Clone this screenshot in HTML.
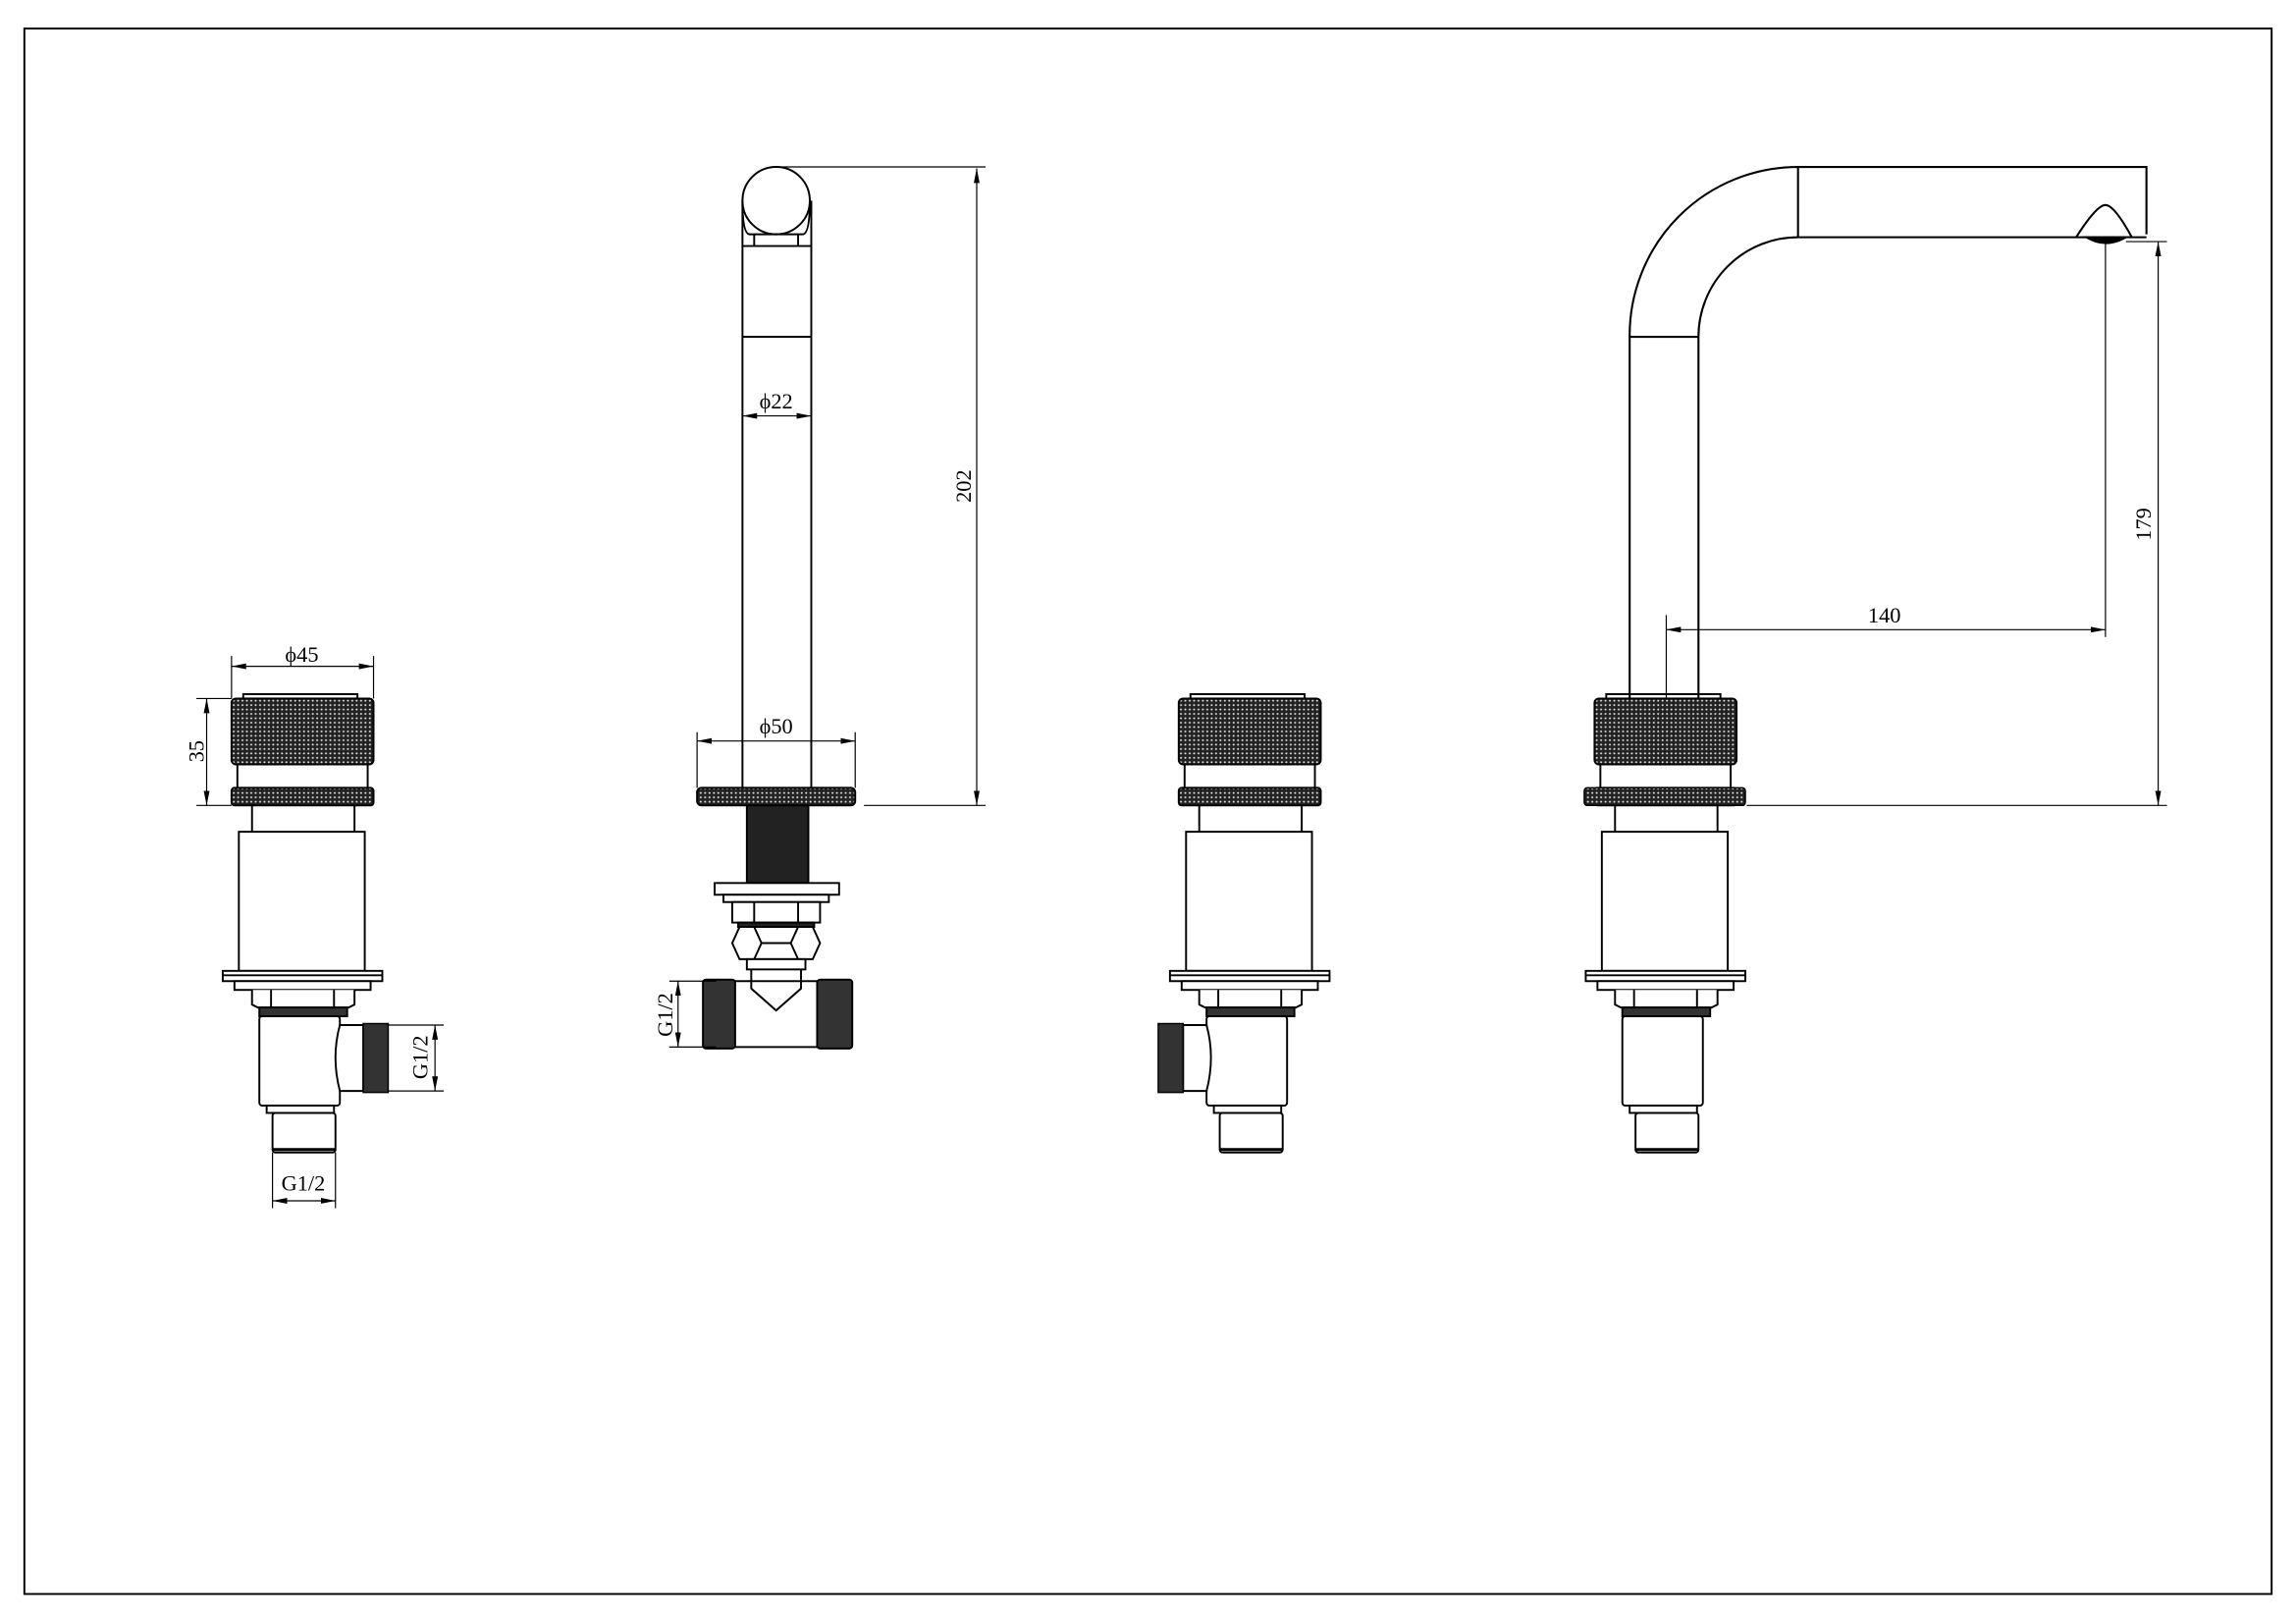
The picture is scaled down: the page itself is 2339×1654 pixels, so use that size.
<!DOCTYPE html>
<html><head><meta charset="utf-8"><style>html,body{margin:0;padding:0;background:#fff}svg{display:block}</style></head>
<body>
<svg width="2339" height="1654" viewBox="0 0 1568 1109" xmlns="http://www.w3.org/2000/svg" font-family="'Liberation Serif', serif">
<defs>
<pattern id="kn" width="3" height="3" patternUnits="userSpaceOnUse"><rect width="3" height="3" fill="#222"/><circle cx="1.5" cy="1.5" r="0.7" fill="#ddd"/></pattern>
<marker id="ar" viewBox="0 0 10 4" refX="10" refY="2" markerWidth="10" markerHeight="4" orient="auto-start-reverse" markerUnits="userSpaceOnUse"><path d="M0,0 L10,2 L0,4 z" fill="#000"/></marker>
<g id="hd" stroke="#000" stroke-width="1.3" fill="none">
<rect x="-40" y="474" width="78" height="3" fill="#fff"/>
<rect x="-48" y="477" width="97" height="45" rx="3" fill="url(#kn)"/>
<line x1="-44" y1="522" x2="-44" y2="538"/><line x1="45" y1="522" x2="45" y2="538"/>
<rect x="-48" y="538" width="97" height="12" rx="2" fill="url(#kn)"/>
<line x1="-34" y1="550" x2="-34" y2="568"/><line x1="36" y1="550" x2="36" y2="568"/>
<rect x="-43" y="568" width="86" height="95" fill="#fff"/>
<rect x="-54" y="663" width="109" height="7" fill="#fff"/><line x1="-54" y1="666" x2="55" y2="666"/>
<rect x="-46" y="670" width="93" height="6" fill="#fff"/>
<path d="M-34,676 V686 L-30,688 H32 L36,686 V676" fill="#fff"/>
<line x1="-21" y1="676" x2="-21" y2="688"/><line x1="22" y1="676" x2="22" y2="688"/>
<rect x="-29" y="688" width="60" height="6" fill="#333"/>
</g>
<g id="low" stroke="#000" stroke-width="1.3" fill="none">
<rect x="-29" y="694" width="55" height="61" rx="2" fill="#fff"/>
<rect x="-24" y="755" width="46" height="5" fill="#fff"/>
<rect x="-20" y="760" width="43" height="27" rx="2" fill="#fff"/>
<line x1="-20" y1="785" x2="23" y2="785" stroke-width="2"/>
</g>
</defs>
<rect x="16.5" y="19.5" width="1535" height="1069" fill="none" stroke="#000" stroke-width="1.3"/>

<g transform="translate(206,0)">
<use href="#hd"/><use href="#low"/>
<path d="M26,700 H42 V745 H26 Q20,722 26,700 z" fill="#fff" stroke="#000" stroke-width="1.3"/>
<rect x="42" y="699" width="17" height="47" fill="#333" stroke="#000"/>
</g>
<g transform="translate(853,0)">
<use href="#hd"/><use href="#low"/>
<path d="M-29,700 H-45 V745 H-29 Q-23,722 -29,700 z" fill="#fff" stroke="#000" stroke-width="1.3"/>
<rect x="-62" y="699" width="17" height="47" fill="#333" stroke="#000"/>
</g>
<g transform="translate(1137,0)">
<use href="#hd"/><use href="#low"/>
<rect x="-55" y="538" width="110" height="12" rx="2" fill="url(#kn)" stroke="#000"/>
</g>

<g stroke="#000" stroke-width="1.3" fill="none">
<path d="M507,137 V538 M554,137 V538"/>
<circle cx="530" cy="137" r="23" fill="#fff"/>
<path d="M507,137 Q507,160 512,160 H548 Q553,160 553,137" />
<path d="M515,160 V168 M545,160 V168 M507,168 H554"/>
<line x1="507" y1="230" x2="554" y2="230"/>
<rect x="476" y="538" width="108" height="12" rx="3" fill="url(#kn)"/>
<rect x="510" y="550" width="42" height="53" fill="#222"/>
<rect x="488" y="603" width="85" height="8" fill="#fff"/>
<rect x="494" y="611" width="72" height="5" fill="#fff"/>
<rect x="500" y="616" width="60" height="14" fill="#fff"/><path d="M515,616 V630 M545,616 V630"/>
<rect x="504" y="630" width="52" height="3" fill="#222"/>
<path d="M505,633 H555 L560,644 L555,655 H505 L500,644 z" fill="#fff"/><path d="M515,633 L520,644 L515,655 M545,633 L540,644 L545,655 M520,644 H540"/>
<rect x="510" y="655" width="40" height="7" fill="#fff"/>
<path d="M513,662 V675 L530,690 L547,675 V662"/>
<rect x="489" y="670" width="91" height="45" fill="none"/>
<path d="M513,675 L530,690 L547,675" fill="#fff"/>
<rect x="480" y="669" width="22" height="47" fill="#333" rx="2"/>
<rect x="558" y="669" width="24" height="47" fill="#333" rx="2"/>
</g>

<g stroke="#000" stroke-width="1.4" fill="none">
<path d="M1113,477 V230 A115,115 0 0 1 1228,114 H1466 V160 M1160,477 V230 A68,68 0 0 1 1228,162 H1466"/>
<line x1="1113" y1="230" x2="1160" y2="230"/>
<line x1="1228" y1="114" x2="1228" y2="162"/>
<path d="M1418,162 Q1432,140 1438,140 Q1444,140 1456,162"/>
<path d="M1425,162 Q1438,170 1452,162 z" fill="#000"/>
</g>

<g stroke="#000" stroke-width="0.8" fill="none">
<line x1="530" y1="114" x2="673" y2="114"/><line x1="590" y1="550" x2="673" y2="550"/>
<line x1="667" y1="115" x2="667" y2="550" marker-start="url(#ar)" marker-end="url(#ar)"/>
<line x1="507" y1="284" x2="554" y2="284" marker-start="url(#ar)" marker-end="url(#ar)"/>
<line x1="476" y1="500" x2="476" y2="538"/><line x1="584" y1="500" x2="584" y2="538"/>
<line x1="476" y1="506" x2="584" y2="506" marker-start="url(#ar)" marker-end="url(#ar)"/>
<line x1="158" y1="448" x2="158" y2="477"/><line x1="255" y1="448" x2="255" y2="477"/>
<line x1="158" y1="455" x2="255" y2="455" marker-start="url(#ar)" marker-end="url(#ar)"/>
<line x1="134" y1="477" x2="158" y2="477"/><line x1="134" y1="550" x2="158" y2="550"/>
<line x1="141" y1="477" x2="141" y2="550" marker-start="url(#ar)" marker-end="url(#ar)"/>
<line x1="265" y1="700" x2="303" y2="700"/><line x1="265" y1="745" x2="303" y2="745"/>
<line x1="297" y1="700" x2="297" y2="745" marker-start="url(#ar)" marker-end="url(#ar)"/>
<line x1="186" y1="787" x2="186" y2="825"/><line x1="229" y1="787" x2="229" y2="825"/>
<line x1="186" y1="820" x2="229" y2="820" marker-start="url(#ar)" marker-end="url(#ar)"/>
<line x1="457" y1="670" x2="489" y2="670"/><line x1="457" y1="715" x2="489" y2="715"/>
<line x1="463" y1="670" x2="463" y2="715" marker-start="url(#ar)" marker-end="url(#ar)"/>
<line x1="1438" y1="165" x2="1438" y2="435"/>
<line x1="1138" y1="420" x2="1138" y2="477"/>
<line x1="1138" y1="430" x2="1438" y2="430" marker-start="url(#ar)" marker-end="url(#ar)"/>
<line x1="1452" y1="165" x2="1480" y2="165"/><line x1="1193" y1="550" x2="1480" y2="550"/>
<line x1="1474" y1="165" x2="1474" y2="550" marker-start="url(#ar)" marker-end="url(#ar)"/>
</g>
<g font-size="15" fill="#000" text-anchor="middle">
<text x="530" y="279">ϕ22</text>
<text x="530" y="501">ϕ50</text>
<text x="206" y="452">ϕ45</text>
<text x="207" y="813">G1/2</text>
<text x="1287" y="425">140</text>
<text transform="translate(663,332) rotate(-90)">202</text>
<text transform="translate(1469,358) rotate(-90)">179</text>
<text transform="translate(139,513) rotate(-90)">35</text>
<text transform="translate(292,722) rotate(-90)">G1/2</text>
<text transform="translate(459,693) rotate(-90)">G1/2</text>
</g>
</svg>
</body></html>
